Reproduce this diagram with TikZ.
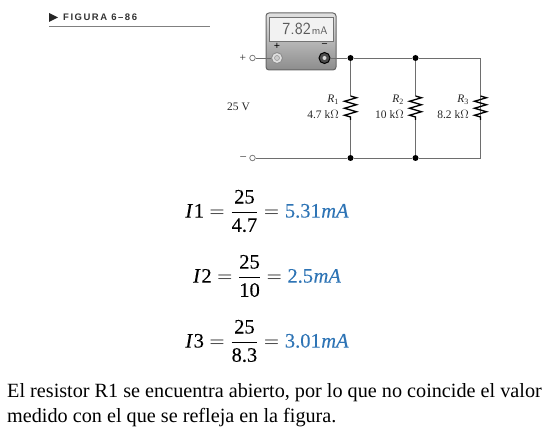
\documentclass[tikz,border=0pt]{standalone}
\usepackage{amsmath}
\usepackage{fontspec}
\setmainfont{Liberation Serif}
\newfontfamily\headfont[LetterSpace=16]{Liberation Sans}
\newfontfamily\eqnfont[FakeBold=0.15]{Liberation Serif}
\usetikzlibrary{decorations.pathmorphing}

\definecolor{wirecol}{HTML}{6E6E6E}
\definecolor{answercol}{HTML}{2E74B5}
\tikzset{
	wire/.style={draw=wirecol,line width=.9pt},
	dotnode/.style={circle,fill=black,inner sep=0pt,minimum size=6pt},
	termnode/.style={circle,draw=wirecol,fill=white,line width=.7pt,inner sep=0pt,minimum size=5.5pt},
	resistor/.style={draw=black,line width=1.3pt,decorate,decoration={zigzag,amplitude=6pt,segment length=7pt}},
	partlabel/.style={font=\fontsize{11.5}{11.5}\selectfont,inner sep=0pt,text=black!85},
	eqnlabel/.style={font=\eqnfont\fontsize{20.5}{20.5}\selectfont,inner sep=0pt},
	bodytext/.style={font=\fontsize{20.2}{25}\selectfont,inner sep=0pt,anchor=base west}
}
\newcommand{\eqnline}[3]{$\displaystyle \text{\itshape I\kern1.5pt}\text{#1}=\frac{\text{25}}{\text{#2}}=\textcolor{answercol}{\text{#3\itshape\kern.5pt mA}}$}

\begin{document}
\begin{tikzpicture}[x=1pt,y=-1pt]
	\useasboundingbox (0,0) rectangle (550,430);

	% heading
	\fill[black!85] (49,13) -- (58,17.5) -- (49,22) -- cycle;
	\node[anchor=west,inner sep=0pt,font=\headfont\bfseries\fontsize{9.5}{9.5}\selectfont,text=black!80] (figtitle) at (63,17.5) {FIGURA 6–86};
	\draw[black!50,line width=.8pt] (49,26) -- (210,26);

	% meter
	\draw[black!60,line width=1pt,rounded corners=3pt,top color=black!12,bottom color=black!45] (266,13) rectangle (336,70);
	\draw[black!55,line width=.8pt,fill=black!5] (269.5,17) rectangle (333,41);
	\node[inner sep=0pt,font=\fontsize{17}{17}\selectfont\sffamily,text=black!65] (meterval) at (305,29) {7.82\kern1pt{\fontsize{11}{11}\selectfont mA}};
	\node[inner sep=0pt,font=\bfseries\fontsize{11}{11}\selectfont] (plussign) at (277,46) {+};
	\node[inner sep=0pt,font=\bfseries\fontsize{10}{10}\selectfont] (minussign) at (324.5,45.5) {--};

	% terminals and junctions
	\node[termnode] (termtop) at (252.5,58) {};
	\node[termnode] (termbot) at (252.5,158) {};
	\node[left=3pt,partlabel,anchor=east] (plusterm) at (termtop.west) {+};
	\node[left=3pt,partlabel,anchor=east] (minusterm) at (termbot.west) {--};
	\node[circle,draw=black!45,fill=black!12,line width=.9pt,inner sep=0pt,minimum size=11pt] (jackplus) at (277,58) {};
	\node[circle,draw=black!40,fill=white!80!black,line width=.6pt,inner sep=0pt,minimum size=5pt] (jackplusin) at (277,58) {};
	\node[circle,draw=black,fill=black!70,line width=1pt,inner sep=0pt,minimum size=11pt] (jackminus) at (324.5,58) {};
	\node[circle,fill=black!15,inner sep=0pt,minimum size=4pt] (jackminusin) at (324.5,58) {};
	\node[dotnode] (jtopa) at (350.5,58) {};
	\node[dotnode] (jtopb) at (415.5,58) {};
	\coordinate (jtopc) at (480.5,58);
	\node[dotnode] (jbota) at (350.5,158) {};
	\node[dotnode] (jbotb) at (415.5,158) {};
	\coordinate (jbotc) at (480.5,158);

	\draw[wire] (termtop) -- (jackplus);
	\draw[wire] (jackminus) -- (jtopa) -- (jtopb) -- (jtopc) -- (jbotc) -- (jbotb) -- (jbota) -- (termbot);

	\node[partlabel] (supply) at (238.5,106.5) {25 V};

	% branches
	\foreach \i/\a/\b/\px in {1/jtopa/jbota/350.5, 2/jtopb/jbotb/415.5}{
		\coordinate (rtop\i) at (\px,96);
		\coordinate (rbot\i) at (\px,120);
		\draw[wire] (\a) -- (rtop\i);
		\draw[resistor] (rtop\i) -- (rbot\i);
		\draw[wire] (rbot\i) -- (\b);
	}
	\coordinate (rtop3) at (480.5,96);
	\coordinate (rbot3) at (480.5,120);
	\draw[resistor] (rtop3) -- (rbot3);

	\node[partlabel,anchor=east] (rnamea) at (339,100) {\textit{R}\textsubscript{1}};
	\node[partlabel,anchor=east] (rvala) at (339,114.5) {4.7 k$\Omega$};
	\node[partlabel,anchor=east] (rnameb) at (404,100) {\textit{R}\textsubscript{2}};
	\node[partlabel,anchor=east] (rvalb) at (404,114.5) {10 k$\Omega$};
	\node[partlabel,anchor=east] (rnamec) at (469,100) {\textit{R}\textsubscript{3}};
	\node[partlabel,anchor=east] (rvalc) at (469,114.5) {8.2 k$\Omega$};

	% calculations
	\node[eqnlabel] (eqa) at (267,211) {\eqnline{1}{4.7}{5.31}};
	\node[eqnlabel] (eqb) at (267,276) {\eqnline{2}{10}{2.5}};
	\node[eqnlabel] (eqc) at (267,341) {\eqnline{3}{8.3}{3.01}};

	% closing text
	\node[bodytext] (closea) at (7,398) {El resistor R1 se encuentra abierto, por lo que no coincide el valor};
	\node[bodytext] (closeb) at (7,423) {medido con el que se refleja en la figura.};
\end{tikzpicture}
\end{document}
